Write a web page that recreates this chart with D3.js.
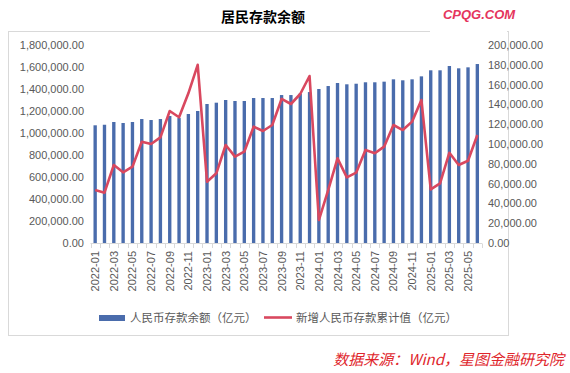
<!DOCTYPE html>
<html>
<head>
<meta charset="utf-8">
<script src="https://cdn.jsdelivr.net/npm/d3@7"></script>
<style>
  body { margin: 0; background: #fff; }
  svg { display: block; }
</style>
</head>
<body>
<svg width="570" height="373"></svg>
<script>
'use strict';

var months = ['2022-01','2022-02','2022-03','2022-04','2022-05','2022-06','2022-07','2022-08','2022-09','2022-10','2022-11','2022-12',
              '2023-01','2023-02','2023-03','2023-04','2023-05','2023-06','2023-07','2023-08','2023-09','2023-10','2023-11','2023-12',
              '2024-01','2024-02','2024-03','2024-04','2024-05','2024-06','2024-07','2024-08','2024-09','2024-10','2024-11','2024-12',
              '2025-01','2025-02','2025-03','2025-04','2025-05','2025-06'];

// 人民币存款余额（亿元）
var balance = [1070000, 1075000, 1100000, 1090900, 1100000, 1127000, 1118000, 1127000, 1154500, 1136000, 1172700, 1200000,
               1263600, 1275500, 1300000, 1290900, 1290900, 1318000, 1318000, 1318000, 1345000, 1345000, 1358000, 1372000,
               1400000, 1427000, 1454500, 1442700, 1448000, 1461000, 1461000, 1466700, 1488000, 1479000, 1488000, 1515000,
               1570000, 1570000, 1609000, 1588000, 1597000, 1627000];

// 新增人民币存款累计值（亿元）
var newDeposits = [53500, 50800, 78800, 71400, 77100, 102300, 100000, 106700, 133300, 127000, 151200, 180000,
                   61900, 70400, 99000, 87200, 92200, 117500, 113100, 119200, 145500, 140400, 150500, 168700,
                   23200, 53500, 85500, 66300, 71000, 94000, 90600, 97300, 119200, 114100, 122600, 144400,
                   54200, 60300, 91200, 78800, 83100, 109100];

var leftTicks = [0, 200000, 400000, 600000, 800000, 1000000, 1200000, 1400000, 1600000, 1800000];
var rightTicks = [0, 20000, 40000, 60000, 80000, 100000, 120000, 140000, 160000, 180000, 200000];

var svg = d3.select('svg');
var fmt = d3.format(',.2f');
var labelFont = '"Liberation Sans", Arial, sans-serif';
var cjkFont = '"Noto Sans CJK SC", "Noto Sans", sans-serif';

// chart frame
svg.append('rect')
    .attr('x', 8.5).attr('y', 31.5)
    .attr('width', 500).attr('height', 304)
    .attr('fill', 'none').attr('stroke', '#d9d9d9');

// watermark box covers frame top right
svg.append('rect')
    .attr('x', 430).attr('y', 0).attr('width', 77).attr('height', 34)
    .attr('fill', '#fff');

var x = d3.scaleBand()
    .domain(months)
    .range([90.5, 482])
    .paddingInner(0.64)
    .paddingOuter(0.32);

var yLeft = d3.scaleLinear().domain([0, 1800000]).range([243, 45]);
var yRight = d3.scaleLinear().domain([0, 200000]).range([243, 45]);

// left axis
var leftAxis = d3.axisLeft(yLeft).tickValues(leftTicks).tickFormat(fmt).tickSize(0).tickPadding(0);
svg.append('g')
    .attr('transform', 'translate(84,0)')
    .call(leftAxis)
    .call(function(g){ g.select('.domain').remove(); })
    .selectAll('text')
        .attr('fill', '#595959')
        .style('font-family', labelFont)
        .style('font-size', '11px');

// right axis
var rightAxis = d3.axisRight(yRight).tickValues(rightTicks).tickFormat(fmt).tickSize(0).tickPadding(0);
svg.append('g')
    .attr('transform', 'translate(488,0)')
    .call(rightAxis)
    .call(function(g){ g.select('.domain').remove(); })
    .selectAll('text')
        .attr('fill', '#595959')
        .style('font-family', labelFont)
        .style('font-size', '11px');

// bars
svg.append('g').selectAll('rect')
    .data(months)
    .enter().append('rect')
        .attr('x', function(d){ return x(d); })
        .attr('width', x.bandwidth())
        .attr('y', function(d, i){ return yLeft(balance[i]); })
        .attr('height', function(d, i){ return yLeft(0) - yLeft(balance[i]); })
        .attr('fill', '#4a6cac');

// x axis line and category boundary ticks
var step = x.step();
var x0 = x(months[0]) - x.paddingOuter() * step + (step - x.bandwidth()) / 2 - step * x.paddingInner() / 2;
var axisG = svg.append('g');
axisG.append('line')
    .attr('x1', 90.5).attr('x2', 482)
    .attr('y1', 243.5).attr('y2', 243.5)
    .attr('stroke', '#d9d9d9');
axisG.selectAll('line.tick')
    .data(d3.range(months.length + 1))
    .enter().append('line')
        .attr('class', 'tick')
        .attr('x1', function(i){ return Math.round(90.5 + i * (482 - 90.5) / months.length) + 0.5; })
        .attr('x2', function(i){ return Math.round(90.5 + i * (482 - 90.5) / months.length) + 0.5; })
        .attr('y1', 243.5).attr('y2', 248)
        .attr('stroke', '#d9d9d9');

// x labels, every second month
axisG.selectAll('text')
    .data(months.filter(function(d, i){ return i % 2 === 0; }))
    .enter().append('text')
        .attr('transform', function(d){
            return 'translate(' + (x(d) + x.bandwidth() / 2 + 4) + ',251) rotate(-90)';
        })
        .attr('text-anchor', 'end')
        .attr('fill', '#595959')
        .style('font-family', labelFont)
        .style('font-size', '11px')
        .text(function(d){ return d; });

// line
var line = d3.line()
    .x(function(d, i){ return x(months[i]) + x.bandwidth() / 2; })
    .y(function(d){ return yRight(d); });

svg.append('path')
    .datum(newDeposits)
    .attr('d', line)
    .attr('fill', 'none')
    .attr('stroke', '#d9485f')
    .attr('stroke-width', 2.6)
    .attr('stroke-linejoin', 'round');

// title
svg.append('text')
    .attr('x', 263).attr('y', 22)
    .attr('text-anchor', 'middle')
    .style('font-family', cjkFont)
    .style('font-weight', 'bold')
    .style('font-size', '14px')
    .attr('fill', '#000')
    .text('居民存款余额');

// watermark
svg.append('text')
    .attr('x', 479).attr('y', 19)
    .attr('text-anchor', 'middle')
    .style('font-family', labelFont)
    .style('font-weight', 'bold')
    .style('font-style', 'italic')
    .style('font-size', '13px')
    .attr('fill', '#e5355d')
    .text('CPQG.COM');

// legend
var legend = svg.append('g');
legend.append('rect')
    .attr('x', 99).attr('y', 315)
    .attr('width', 26).attr('height', 6)
    .attr('fill', '#4a6cac');
legend.append('text')
    .attr('x', 130).attr('y', 322)
    .style('font-family', cjkFont)
    .style('font-size', '11.5px')
    .attr('fill', '#595959')
    .text('人民币存款余额（亿元）');
legend.append('line')
    .attr('x1', 264).attr('x2', 292)
    .attr('y1', 317.5).attr('y2', 317.5)
    .attr('stroke', '#d9485f')
    .attr('stroke-width', 2.6);
legend.append('text')
    .attr('x', 296).attr('y', 322)
    .style('font-family', cjkFont)
    .style('font-size', '11.5px')
    .attr('fill', '#595959')
    .text('新增人民币存款累计值（亿元）');

// source note
svg.append('text')
    .attr('x', 564).attr('y', 365)
    .attr('text-anchor', 'end')
    .style('font-family', cjkFont)
    .style('font-style', 'italic')
    .style('font-size', '15px')
    .attr('fill', '#e0262c')
    .text('数据来源：Wind，星图金融研究院');
</script>
</body>
</html>
